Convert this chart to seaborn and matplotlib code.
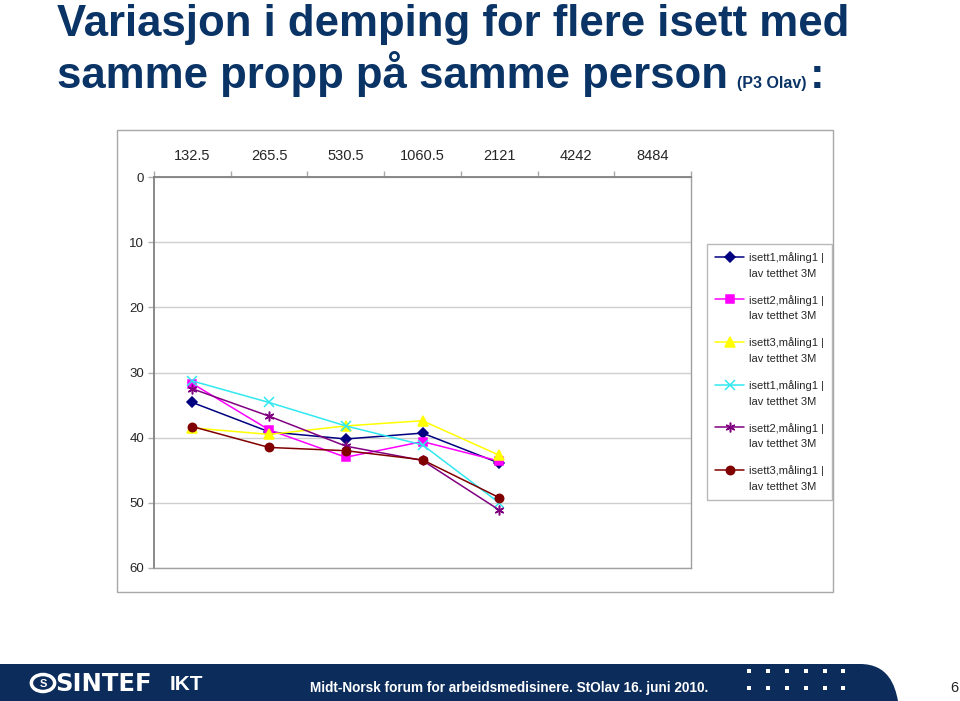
import numpy as np
import pandas as pd
import matplotlib.pyplot as plt
import seaborn as sns
from matplotlib.patches import Rectangle, PathPatch, Circle
from matplotlib.path import Path
from matplotlib.lines import Line2D
from matplotlib.legend_handler import HandlerLine2D

# -----------------------------
# Data (demping i dB per frekvens)
# -----------------------------
frekvens = ["132.5", "265.5", "530.5", "1060.5", "2121", "4242", "8484"]

isett1_m1 = [34.6, 39.1, 40.2, 39.3, 43.9]
isett2_m1 = [31.7, 38.8, 43.0, 40.6, 43.6]
isett3_m1 = [38.5, 39.5, 38.2, 37.4, 42.7]
isett1_m1b = [31.3, 34.6, 38.2, 41.1, 50.0]
isett2_m1b = [32.5, 36.7, 41.3, 43.5, 51.1]
isett3_m1b = [38.3, 41.5, 42.0, 43.4, 49.2]

etiketter = ["isett1,måling1 |\nlav tetthet 3M",
             "isett2,måling1 |\nlav tetthet 3M",
             "isett3,måling1 |\nlav tetthet 3M",
             "isett1,måling1 |\nlav tetthet 3M",
             "isett2,måling1 |\nlav tetthet 3M",
             "isett3,måling1 |\nlav tetthet 3M"]
verdier = [isett1_m1, isett2_m1, isett3_m1, isett1_m1b, isett2_m1b, isett3_m1b]

farger = ["#000080", "#FF00FF", "#FFFF00", "#30E8F0", "#800080", "#800000"]
markorer = ["D", "s", "^", "x", (6, 2, 0), "o"]
storrelser = [5, 6, 7, 7, 7, 6]

# -----------------------------
# Stil
# -----------------------------
sns.set_style("white")
plt.rcParams["font.family"] = ["Liberation Sans", "DejaVu Sans"]

W, H = 960, 701
fig = plt.figure(figsize=(9.6, 7.01), dpi=100)


def px(x, y):
    return (x / W, 1 - y / H)


# legendsymbolet paa linje med foerste tekstlinje
class ToppHandler(HandlerLine2D):
    def create_artists(self, legend, orig_handle, xdescent, ydescent,
                       width, height, fontsize, trans):
        arts = super().create_artists(legend, orig_handle, xdescent, ydescent,
                                      width, height, fontsize, trans)
        for a in arts:
            a.set_ydata(np.asarray(a.get_ydata()) + 0.8 * fontsize)
        return arts


# ramme rundt diagramomraadet
fig.add_artist(Rectangle(px(117, 592), 716 / W, 462 / H, fill=False,
                         edgecolor="#a8a8a8", lw=1, transform=fig.transFigure))

ax = fig.add_axes([154 / W, 1 - 568 / H, (691 - 154) / W, (568 - 177) / H])

for vals, c, m, ms, lab in zip(verdier, farger, markorer, storrelser, etiketter):
    d = pd.DataFrame({"pos": range(len(vals)), "demping": vals})
    sns.lineplot(data=d, x="pos", y="demping", color=c, marker=m, ms=ms,
                 mec=c, mfc=c, mew=1.1, lw=1.1, label=lab, ax=ax)

handles, labels = ax.get_legend_handles_labels()
ax.get_legend().remove()

leg = fig.legend(handles, labels, loc="upper left",
                 bbox_to_anchor=px(707, 244), bbox_transform=fig.transFigure,
                 fontsize=8, frameon=True, fancybox=False, edgecolor="#a8a8a8",
                 labelspacing=1.45, handlelength=2.6, handletextpad=0.4,
                 borderpad=0.75, borderaxespad=0,
                 handler_map={Line2D: ToppHandler()})
leg.get_frame().set_linewidth(1)
for t in leg.get_texts():
    t.set_linespacing(1.7)

# akser
ax.set_ylim(60, 0)
ax.set_xlim(-0.5, 6.5)
ax.set_yticks(range(0, 61, 10))
ax.set_xticks(range(len(frekvens)))
ax.set_xticklabels(frekvens)
ax.set_xticks(np.arange(-0.5, 7, 1), minor=True)
ax.xaxis.tick_top()
ax.tick_params(axis="x", which="major", length=0, pad=10, labelsize=10.5,
               top=True, bottom=False, labeltop=True, labelbottom=False)
ax.tick_params(axis="x", which="minor", length=4, color="#a8a8a8", width=1,
               top=True, bottom=False, direction="out")
ax.tick_params(axis="y", length=4.5, color="#b0b0b0", width=1, pad=2.5,
               labelsize=9.5, left=True, direction="out")
ax.set_xlabel("")
ax.set_ylabel("")
ax.grid(axis="y", color="#cfcfcf", lw=1)
ax.grid(axis="x", visible=False)
for side in ["top", "left"]:
    ax.spines[side].set_color("#808080")
    ax.spines[side].set_linewidth(1.3)
for side in ["right", "bottom"]:
    ax.spines[side].set_color("#a0a0a0")
    ax.spines[side].set_linewidth(1)

# -----------------------------
# Tittel
# -----------------------------
tittelfarge = "#0a3366"
fig.text(*px(57, 36), "Variasjon i demping for flere isett med", fontsize=31.5,
         weight="bold", color=tittelfarge, va="baseline", ha="left")
fig.text(*px(57, 88), "samme propp på samme person", fontsize=31.5,
         weight="bold", color=tittelfarge, va="baseline", ha="left")
fig.text(*px(737, 88), "(P3 Olav)", fontsize=11.5, weight="bold",
         color=tittelfarge, va="baseline", ha="left")
fig.text(*px(810, 88), ":", fontsize=31.5, weight="bold",
         color=tittelfarge, va="baseline", ha="left")

# -----------------------------
# Bunntekst
# -----------------------------
bandfarge = "#0c2c5c"
verts = [px(0, 664), px(860, 664), px(888, 664), px(895, 685), px(898, 701),
         px(0, 701), px(0, 664)]
codes = [Path.MOVETO, Path.LINETO, Path.CURVE4, Path.CURVE4, Path.CURVE4,
         Path.LINETO, Path.CLOSEPOLY]
fig.add_artist(PathPatch(Path(verts, codes), facecolor=bandfarge,
                         edgecolor="none", transform=fig.transFigure))
fig.add_artist(Circle(px(43, 683), 8.5 / H, fill=False, edgecolor="white",
                      lw=2.5, transform=fig.transFigure))
fig.text(*px(43, 684), "S", fontsize=8, weight="bold", color="white",
         ha="center", va="center")
fig.text(*px(55, 684), "SINTEF", fontsize=17.5, weight="bold", color="white",
         ha="left", va="center", family="DejaVu Sans")
fig.text(*px(170, 685), "IKT", fontsize=15, weight="bold", color="white",
         ha="left", va="center")
fig.text(*px(310, 688), "Midt-Norsk forum for arbeidsmedisinere. StOlav 16. juni 2010.",
         fontsize=9.8, weight="bold", color="white", ha="left", va="center")
for yy in [671, 688]:
    for xx in [749, 768, 787, 806, 825, 843]:
        fig.add_artist(Rectangle(px(xx - 2, yy + 2), 4 / W, 4 / H,
                                 facecolor="white", edgecolor="none",
                                 transform=fig.transFigure))
fig.text(*px(958, 688), "6", fontsize=10.5, color="#222222",
         ha="right", va="center")

plt.savefig("out.png", dpi=100)
